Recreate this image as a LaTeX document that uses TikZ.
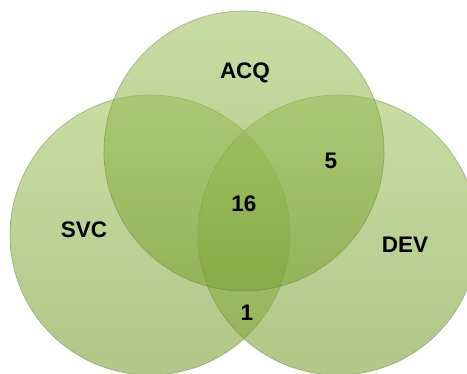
\documentclass[tikz,border=0pt]{standalone}
\usepackage{fontspec}
\setmainfont{Liberation Sans}
\definecolor{setlight}{RGB}{162,198,100}
\definecolor{setdark}{RGB}{124,162,56}
\definecolor{setrim}{RGB}{96,124,50}
\tikzset{
  vennset/.style={circle, minimum size=280pt, inner sep=0pt,
    top color=setlight, bottom color=setdark, fill opacity=0.6,
    draw=setrim, draw opacity=0.45, line width=0.7pt},
  setlabel/.style={font=\fontsize{22.5}{24}\selectfont\bfseries, text=black, inner sep=0pt},
}
\begin{document}
\begin{tikzpicture}[x=1pt,y=-1pt]
  \useasboundingbox (0,0) rectangle (467,374);
  % the three sets
  \node[vennset] (svc) at (150,235) {};
  \node[vennset] (dev) at (338,235) {};
  \node[vennset] (acq) at (244,151) {};
  % set names
  \node[setlabel] (acqname) at (245,73) {ACQ};
  \node[setlabel] (svcname) at (84,230) {SVC};
  \node[setlabel] (devname) at (405,245) {DEV};
  % region counts
  \node[setlabel] (nall) at (244,204) {16};
  \node[setlabel] (nacqdev) at (331,161) {5};
  \node[setlabel] (nsvcdev) at (247,313) {1};
\end{tikzpicture}
\end{document}
